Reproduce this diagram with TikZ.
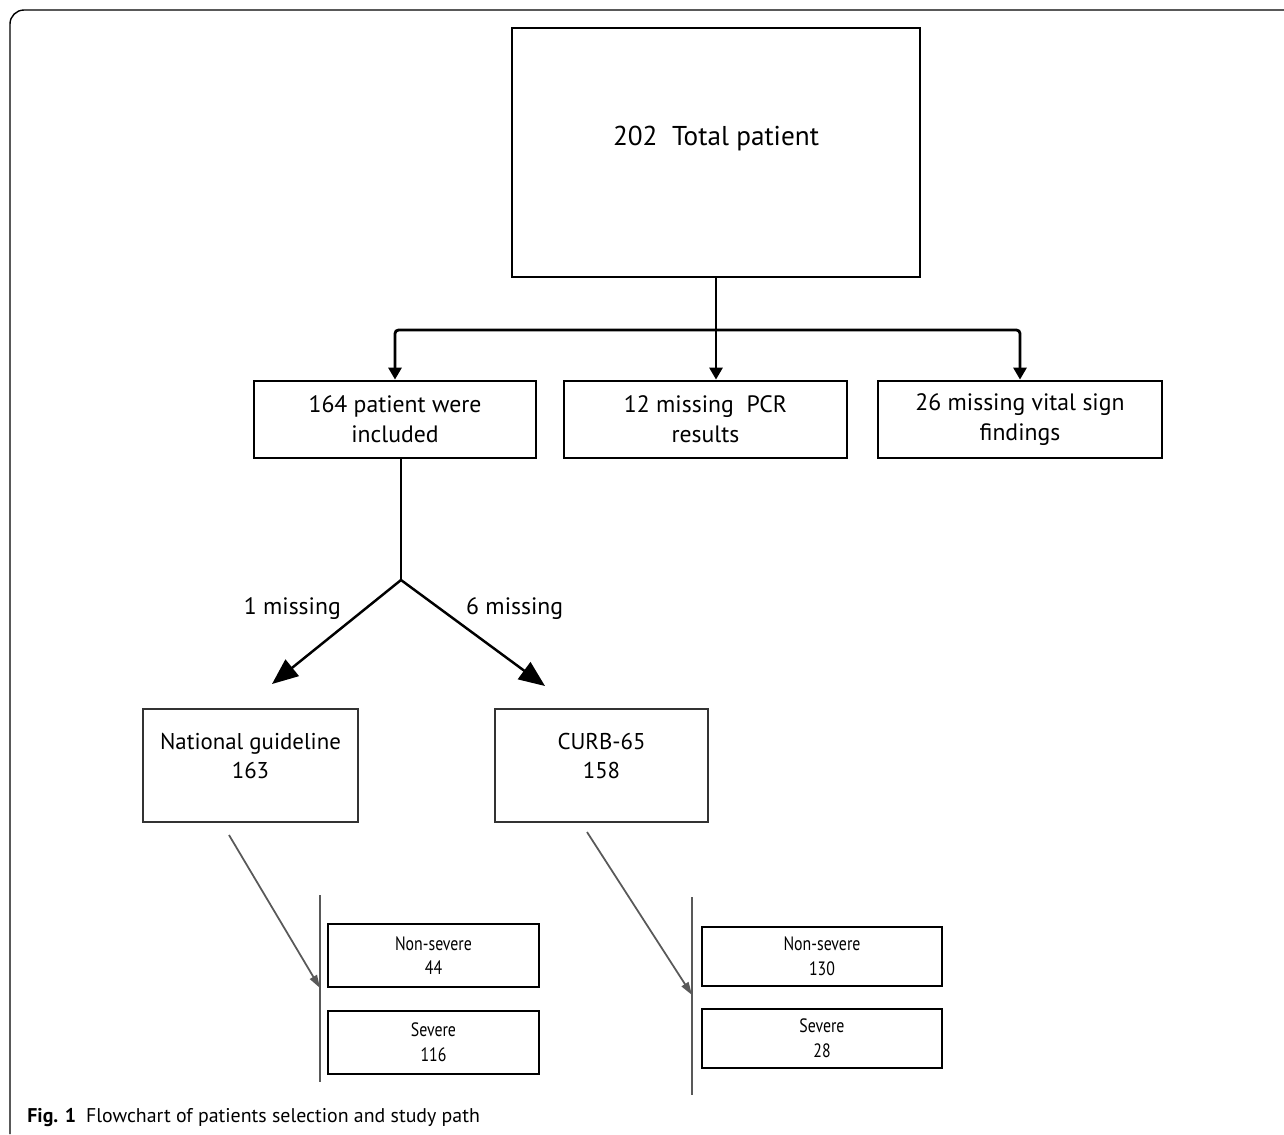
\documentclass[tikz,border=0pt]{standalone}
\usepackage{fontspec}
\setmainfont{PT Sans}
\newfontfamily\condfont[FakeStretch=0.82]{PT Sans}
\usepackage{tikz}
\usetikzlibrary{arrows.meta}

\begin{document}
\begin{tikzpicture}[x=0.02cm,y=-0.02cm,
   topbox/.style={rectangle,draw,line width=1.6pt,inner sep=0pt,align=center,
    minimum height=1.54cm,font=\fontsize{13.5}{17}\selectfont},
   scorebox/.style={rectangle,draw=black!80,line width=1.1pt,inner sep=0pt,align=center,
    font=\fontsize{13}{16.5}\selectfont},
   classbox/.style={rectangle,draw,line width=1pt,inner sep=0pt,align=center,
    font=\condfont\fontsize{11}{14}\selectfont},
   flow/.style={line width=1.6pt,-{Triangle[length=0.24cm,width=0.26cm]}},
   split/.style={line width=1.4pt,-{Triangle[length=0.52cm,width=0.42cm]}},
   thin/.style={draw=black!65,line width=1pt},
   thinarrow/.style={thin,-{Triangle[length=0.26cm,width=0.16cm]}},
   miss/.style={inner sep=2pt,font=\fontsize{13.5}{16}\selectfont}
    ]
  \useasboundingbox (0,0) rectangle (1284,1134);

  % -- frame
  \draw[line width=0.8pt,rounded corners=0.28cm] (10,1134) -- (10,10) -- (1284,10);

  % -- total
  \node[rectangle,draw,line width=1.6pt,inner sep=0pt,minimum width=8.16cm,
    text height=2.34cm,text depth=2.64cm,font=\fontsize{15.5}{18}\selectfont]
    at (716,152.5) (total) {202~~Total patient};

  % -- first split
  \coordinate (hub) at (716,330);
  \node[topbox,minimum width=5.64cm] at (395,419.5) (incl) {164 patient were\\included};
  \node[topbox,minimum width=5.66cm] at (705.5,419.5) (pcr) {12 missing~~PCR\\results};
  \node[topbox,minimum width=5.68cm] at (1020,419.5) (vital) {26 missing vital sign\\findings};

  \draw[flow] (total.south) -- (total.south |- pcr.north);
  \draw[flow,rounded corners=2pt] (hub) -- (incl.north |- hub) -- (incl.north);
  \draw[flow,rounded corners=2pt] (hub) -- (vital.north |- hub) -- (vital.north);

  % -- scores
  \coordinate (fork) at (401,580);
  \coordinate (ngin) at (272,684);
  \coordinate (curbin) at (545,686);
  \node[scorebox,minimum width=4.3cm,text height=1.38cm,text depth=0.88cm]
    at (250.5,765.5) (ng) {National guideline\\163};
  \node[scorebox,minimum width=4.26cm,text height=1.38cm,text depth=0.88cm]
    at (601.5,765.5) (curb) {CURB-65\\158};

  \draw[line width=1.4pt] (incl.south -| fork) -- (fork);
  \draw[split] (fork) -- node[miss,pos=0.43,anchor=south east] {1 missing} (ngin);
  \draw[split] (fork) -- node[miss,pos=0.42,anchor=south west] {6 missing} (curbin);

  % -- severity, national guideline
  \coordinate (ngout) at (229,835);
  \coordinate (bar1top) at (320,895);
  \coordinate (bar1hit) at (320,988);
  \coordinate (bar1bot) at (320,1082);
  \node[classbox,minimum width=4.22cm,minimum height=1.26cm] at (433.5,955.5) (ns1) {Non-severe\\44};
  \node[classbox,minimum width=4.22cm,minimum height=1.26cm] at (433.5,1042.5) (sv1) {Severe\\116};
  \draw[thin] (bar1top) -- (bar1bot);
  \draw[thinarrow] (ngout) -- (bar1hit);

  % -- severity, CURB-65
  \coordinate (curbout) at (587,832);
  \coordinate (bar2top) at (692,897);
  \coordinate (bar2hit) at (692,995);
  \coordinate (bar2bot) at (692,1095);
  \node[classbox,minimum width=4.8cm,minimum height=1.18cm] at (822,956.5) (ns2) {Non-severe\\130};
  \node[classbox,minimum width=4.8cm,minimum height=1.18cm] at (822,1038.5) (sv2) {Severe\\28};
  \draw[thin] (bar2top) -- (bar2bot);
  \draw[thinarrow] (curbout) -- (bar2hit);

  % -- caption
  \node[anchor=base west,inner sep=0pt,font=\fontsize{11.3}{13}\selectfont] at (27,1122) (cap)
    {\textbf{Fig. 1}\hspace{0.5em}Flowchart of patients selection and study path};
\end{tikzpicture}
\end{document}
